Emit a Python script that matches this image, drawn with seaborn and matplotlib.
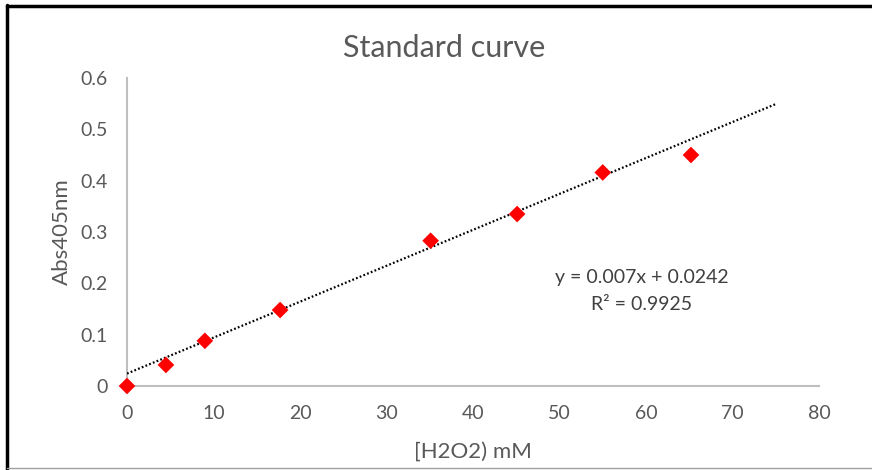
import numpy as np
import pandas as pd
import matplotlib
matplotlib.use("Agg")
import matplotlib.pyplot as plt
from matplotlib.lines import Line2D
import seaborn as sns

# data
conc_mM = [0, 4.5, 9.0, 17.7, 35.1, 45.1, 55.0, 65.2]
absorbance = [0.0, 0.041, 0.088, 0.148, 0.283, 0.335, 0.416, 0.450]
slope = 0.007
intercept = 0.0242
r_squared = 0.9925
trend_x_range = [0, 75]
x_ticks = [0, 10, 20, 30, 40, 50, 60, 70, 80]
y_ticks = [0, 0.1, 0.2, 0.3, 0.4, 0.5, 0.6]

sns.set_theme(style="white")
plt.rcParams['font.family'] = ['Lato', 'DejaVu Sans']

df = pd.DataFrame({"x": conc_mM, "y": absorbance})

fig = plt.figure(figsize=(8.72, 4.70), dpi=100)
ax = fig.add_axes([127/872, 1-386/470, (819-127)/872, (386-78)/470])

tx = np.array(trend_x_range, dtype=float)
ax.plot(tx, slope*tx + intercept, color="black", lw=1.6,
        linestyle=(0, (0.8, 1.0)), zorder=3)

sns.scatterplot(data=df, x="x", y="y", ax=ax, marker="D", color="#FF0000",
                s=72, edgecolor="none", zorder=4, clip_on=False)

ax.set_xlim(0, 80)
ax.set_ylim(0, 0.6)
ax.set_xticks(x_ticks)
ax.set_yticks(y_ticks)
ax.set_xticklabels([str(v) for v in x_ticks])
ax.set_yticklabels(["0"] + [f"{v:.1f}" for v in y_ticks[1:]])
ax.tick_params(axis="both", length=0, labelsize=14, labelcolor="#595959")
ax.tick_params(axis="x", pad=14)
ax.tick_params(axis="y", pad=14)

for s in ["top", "right"]:
    ax.spines[s].set_visible(False)
for s in ["left", "bottom"]:
    ax.spines[s].set_color("#BFBFBF")
    ax.spines[s].set_linewidth(1.5)
ax.grid(False)

ax.set_xlabel("[H2O2) mM", fontsize=16, color="#595959")
ax.set_ylabel("Abs405nm", fontsize=16, color="#595959")
ax.xaxis.set_label_coords(0.5, -(452-386)/308)
ax.yaxis.set_label_coords(-(127-62)/692, 0.5)
ax.xaxis.label.set_va("center")
ax.yaxis.label.set_va("center")

fig.text(444/872, 1-48/470, "Standard curve", ha="center", va="center",
         fontsize=22, color="#595959")

ax.text((642-127)/692*80, (386-278)/513, f"y = {slope}x + {intercept}",
        ha="center", va="center", fontsize=14, color="#404040")
ax.text((642-127)/692*80, (386-305)/513, f"R\u00b2 = {r_squared}",
        ha="center", va="center", fontsize=14, color="#404040")

# outer frame lines
fig.add_artist(Line2D([7/872, 7/872], [0, 1-5/470], transform=fig.transFigure,
                      color="black", lw=2.5))
fig.add_artist(Line2D([7/872, 1], [1-6/470, 1-6/470], transform=fig.transFigure,
                      color="black", lw=2.5))
fig.add_artist(Line2D([7/872, 1], [1-468/470, 1-468/470], transform=fig.transFigure,
                      color="#A0A0A0", lw=1))

fig.savefig("out.png", dpi=100, facecolor="white")
